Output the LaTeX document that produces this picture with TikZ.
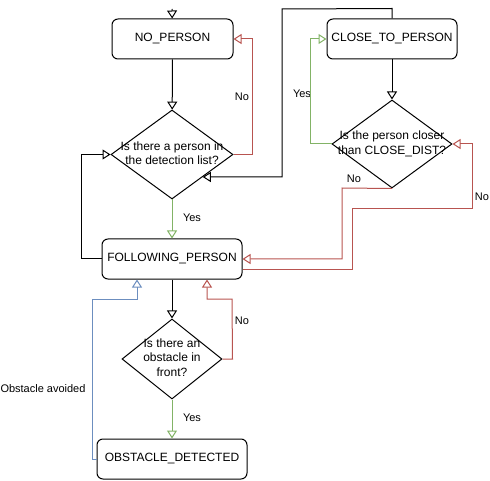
\documentclass[tikz,border=0pt]{standalone}
\usepackage{fontspec}
\setmainfont{Liberation Sans}
\usetikzlibrary{arrows.meta,shapes.geometric}
\definecolor{cred}{HTML}{B85450}
\definecolor{cgreen}{HTML}{82B366}
\definecolor{cblue}{HTML}{6C8EBF}
\tikzset{
  statebox/.style={draw, line width=1pt, rounded corners=6pt, inner sep=0pt, minimum height=40pt, font=\fontsize{12}{14.5}\selectfont},
  decision/.style={draw, line width=1pt, diamond, inner sep=0pt, font=\fontsize{12}{14.5}\selectfont},
  arr/.style={line width=1pt, -{Triangle[open,length=8pt,width=10pt]}},
  lbl/.style={font=\fontsize{11}{13}\selectfont, inner sep=0pt},
}
\newcommand{\dtext}[1]{\makebox[0pt]{\begin{tabular}{@{}c@{}}#1\end{tabular}}}
\begin{document}
\begin{tikzpicture}[x=1pt,y=-1pt]
\useasboundingbox (0,0) rectangle (490,481);
% nodes
\node[statebox, minimum width=121pt] (np) at (172.5,39) {NO\_PERSON};
\node[statebox, minimum width=130pt] (ctp) at (392,39) {CLOSE\_TO\_PERSON};
\node[statebox, minimum width=140pt] (fp) at (172,259) {FOLLOWING\_PERSON};
\node[statebox, minimum width=150pt] (od) at (172,459) {OBSTACLE\_DETECTED};
\node[decision, minimum width=122pt, minimum height=89pt] (d1) at (172,154.5) {\dtext{Is there a person in\\the detection list?}};
\node[decision, minimum width=120pt, minimum height=88pt] (d2) at (392,144) {\dtext{Is the person closer\\than CLOSE\_DIST?}};
\node[decision, minimum width=100pt, minimum height=80pt] (d3) at (172,359) {\dtext{Is there an\\obstacle in\\front?}};
\coordinate (start) at (172,9);
% labels
\node[lbl] (l1) at (242,97) {No};
\node[lbl] (l2) at (192,218) {Yes};
\node[lbl] (l3) at (302,94) {Yes};
\node[lbl] (l4) at (354,179) {No};
\node[lbl] (l5) at (482,197) {No};
\node[lbl] (l6) at (242,321) {No};
\node[lbl] (l7) at (192,418) {Yes};
\node[lbl] (l8) at (43,389) {Obstacle avoided};
% connectors
\draw[arr] (start) -- (np);
\draw[arr] (np) -- (d1);
\draw[arr, cred] (d1.east) -- ++(19,0) |- (np.east);
\draw[arr, cgreen] (d1.south) -- (fp.north);
\draw[arr] (fp.west) -- ++(-20,0) |- (d1.west);
\draw[arr] (ctp.north) -- ++(0,-10) -- (282,9) |- (d1.south east);
\draw[arr] (ctp) -- (d2);
\draw[arr, cgreen] (d2.west) -- ++(-21,0) |- (ctp.west);
\draw[arr, cred] (d2.south) -- (342,188) |- (fp.east);
\draw[arr, cred] ([yshift=-10pt]fp.east) -- (352,269) -- (352,209) -- (472,209) |- (d2.east);
\draw[arr] (fp) -- (d3);
\draw[arr, cred] (d3.east) -- ++(10,0) -- (232,299) -| ([xshift=35pt]fp.south);
\draw[arr, cgreen] (d3.south) -- (od.north);
\draw[arr, cblue] (od.west) -- (92,459) -- (92,299) -| ([xshift=-35pt]fp.south);
\end{tikzpicture}
\end{document}
